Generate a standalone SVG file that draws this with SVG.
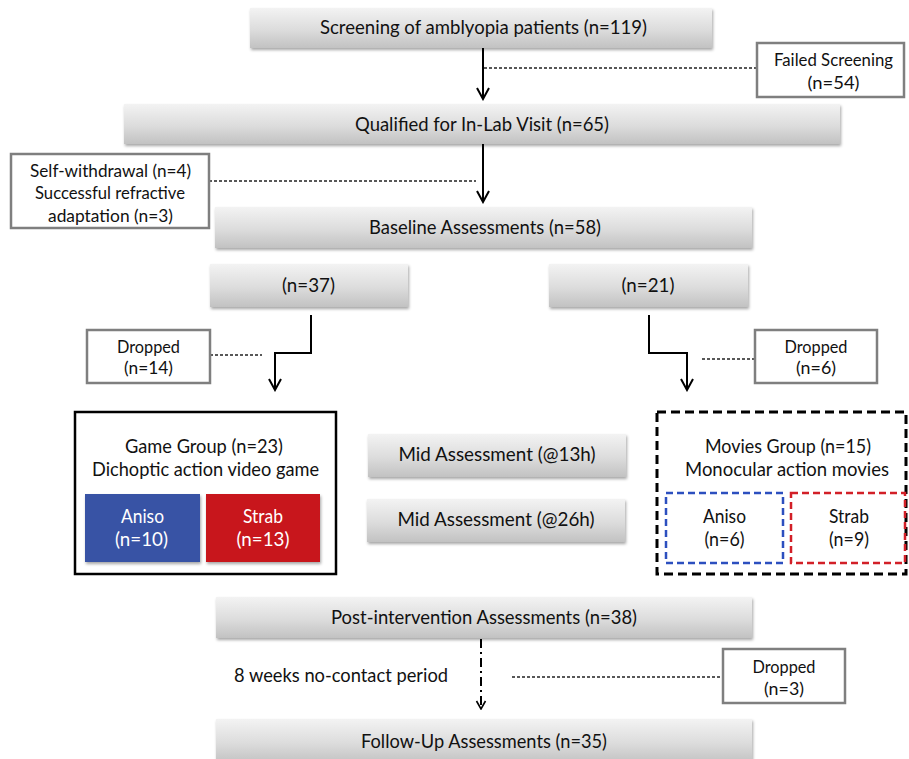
<svg xmlns="http://www.w3.org/2000/svg" width="909" height="759" viewBox="0 0 909 759">
<defs>
  <linearGradient id="gray" x1="0" y1="0" x2="0" y2="1">
    <stop offset="0" stop-color="#f3f3f3"/>
    <stop offset="0.55" stop-color="#dcdcdc"/>
    <stop offset="1" stop-color="#c2c2c2"/>
  </linearGradient>
  <filter id="sh" x="-5%" y="-20%" width="110%" height="150%">
    <feDropShadow dx="1" dy="2" stdDeviation="1.5" flood-color="#000" flood-opacity="0.35"/>
  </filter>
  <marker id="arr" markerWidth="14" markerHeight="14" refX="12" refY="7" orient="auto" markerUnits="userSpaceOnUse" viewBox="0 0 14 14">
    <path d="M1,1 L12,7 L1,13" fill="none" stroke="#000" stroke-width="2"/>
  </marker>
  <marker id="arrs" markerWidth="10" markerHeight="12" refX="9" refY="6" orient="auto" markerUnits="userSpaceOnUse" viewBox="0 0 10 12">
    <path d="M1,1.5 L9,6 L1,10.5" fill="none" stroke="#000" stroke-width="1.6"/>
  </marker>
</defs>
<style>
  text { font-family: Lato, "Open Sans", "Liberation Sans", sans-serif; fill: #111111; text-anchor: middle; font-size: 19px; }
  .sm { font-size: 17px; }
  .w { fill: #ffffff; }
  .gbox { fill: url(#gray); filter: url(#sh); }
  .drop { fill: #ffffff; stroke: #7f7f7f; stroke-width: 2.5; }
  .flow { fill: none; stroke: #000; stroke-width: 2; }
  .dash { fill: none; stroke: #222; stroke-width: 1.4; stroke-dasharray: 3 2; }
</style>
<rect width="909" height="759" fill="#ffffff"/>

<g id="connectors">
  <line class="flow" x1="483" y1="48" x2="483" y2="99" marker-end="url(#arr)"/>
  <line class="dash" x1="484" y1="68" x2="757" y2="68"/>
  <line class="flow" x1="483" y1="144" x2="483" y2="202" marker-end="url(#arr)"/>
  <line class="dash" x1="209" y1="181" x2="476" y2="181"/>
  <polyline class="flow" points="311,315 311,353 275,353 275,390" marker-end="url(#arr)"/>
  <line class="dash" x1="210" y1="355" x2="262" y2="355"/>
  <polyline class="flow" points="649,315 649,353 687,353 687,390" marker-end="url(#arr)"/>
  <line class="dash" x1="702" y1="359" x2="755" y2="359"/>
  <line x1="481" y1="639" x2="481" y2="709" fill="none" stroke="#000" stroke-width="2" stroke-dasharray="9 4 2 4" marker-end="url(#arrs)"/>
  <line class="dash" x1="512" y1="677" x2="723" y2="677"/>
</g>

<g id="screening">
  <rect class="gbox" x="250" y="8" width="462" height="40"/>
  <text x="483.5" y="34" textLength="327" lengthAdjust="spacingAndGlyphs">Screening of amblyopia patients (n=119)</text>
</g>
<g id="failed">
  <rect class="drop" x="757" y="43" width="147" height="54"/>
  <text class="sm" x="833.5" y="66" textLength="119" lengthAdjust="spacingAndGlyphs">Failed Screening</text>
  <text class="sm" x="833.5" y="89" textLength="52" lengthAdjust="spacingAndGlyphs">(n=54)</text>
</g>
<g id="qualified">
  <rect class="gbox" x="124" y="104" width="716" height="40"/>
  <text x="482" y="131" textLength="254" lengthAdjust="spacingAndGlyphs">Qualified for In-Lab Visit (n=65)</text>
</g>
<g id="withdrawal">
  <rect class="drop" x="11" y="154" width="198" height="74"/>
  <text class="sm" x="110.5" y="177" textLength="161" lengthAdjust="spacingAndGlyphs">Self-withdrawal (n=4)</text>
  <text class="sm" x="110" y="199" textLength="150" lengthAdjust="spacingAndGlyphs">Successful refractive</text>
  <text class="sm" x="110.5" y="222" textLength="125" lengthAdjust="spacingAndGlyphs">adaptation (n=3)</text>
</g>
<g id="baseline">
  <rect class="gbox" x="215" y="207" width="537" height="41"/>
  <text x="485" y="234" textLength="232" lengthAdjust="spacingAndGlyphs">Baseline Assessments (n=58)</text>
</g>
<g id="n37">
  <rect class="gbox" x="210" y="264" width="198" height="43"/>
  <text x="308.5" y="292" textLength="53" lengthAdjust="spacingAndGlyphs">(n=37)</text>
</g>
<g id="n21">
  <rect class="gbox" x="549" y="264" width="199" height="43"/>
  <text x="648" y="292" textLength="53" lengthAdjust="spacingAndGlyphs">(n=21)</text>
</g>
<g id="dropped14">
  <rect class="drop" x="87" y="330" width="123" height="53"/>
  <text class="sm" x="148.5" y="353" textLength="63" lengthAdjust="spacingAndGlyphs">Dropped</text>
  <text class="sm" x="148.5" y="374" textLength="49" lengthAdjust="spacingAndGlyphs">(n=14)</text>
</g>
<g id="dropped6">
  <rect class="drop" x="755" y="330" width="122" height="53"/>
  <text class="sm" x="816" y="353" textLength="63" lengthAdjust="spacingAndGlyphs">Dropped</text>
  <text class="sm" x="816" y="374" textLength="40" lengthAdjust="spacingAndGlyphs">(n=6)</text>
</g>
<g id="game">
  <rect x="75" y="412" width="261" height="162" fill="#ffffff" stroke="#000" stroke-width="2.5"/>
  <text x="204" y="453" textLength="158" lengthAdjust="spacingAndGlyphs">Game Group (n=23)</text>
  <text x="205.5" y="476" textLength="227" lengthAdjust="spacingAndGlyphs">Dichoptic action video game</text>
  <g id="game-aniso">
    <rect x="85" y="494" width="115" height="68" fill="#3953a5" filter="url(#sh)"/>
    <text class="w" x="142.5" y="523" textLength="43" lengthAdjust="spacingAndGlyphs">Aniso</text>
    <text class="w" x="141.5" y="546" textLength="53" lengthAdjust="spacingAndGlyphs">(n=10)</text>
  </g>
  <g id="game-strab">
    <rect x="206" y="494" width="114" height="68" fill="#c8171e" filter="url(#sh)"/>
    <text class="w" x="263" y="523" textLength="40" lengthAdjust="spacingAndGlyphs">Strab</text>
    <text class="w" x="263" y="546" textLength="53" lengthAdjust="spacingAndGlyphs">(n=13)</text>
  </g>
</g>
<g id="mid13">
  <rect class="gbox" x="368" y="434" width="258" height="43"/>
  <text x="497" y="461" textLength="197" lengthAdjust="spacingAndGlyphs">Mid Assessment (@13h)</text>
</g>
<g id="mid26">
  <rect class="gbox" x="367" y="499" width="258" height="43"/>
  <text x="496" y="526" textLength="197" lengthAdjust="spacingAndGlyphs">Mid Assessment (@26h)</text>
</g>
<g id="movies">
  <rect x="657" y="412" width="249" height="162" fill="#ffffff" stroke="#000" stroke-width="3" stroke-dasharray="9 5"/>
  <text x="788" y="453" textLength="166" lengthAdjust="spacingAndGlyphs">Movies Group (n=15)</text>
  <text x="787" y="476" textLength="204" lengthAdjust="spacingAndGlyphs">Monocular action movies</text>
  <g id="movies-aniso">
    <rect x="666" y="493" width="117" height="70" fill="none" stroke="#2c4fbf" stroke-width="2.5" stroke-dasharray="7 4"/>
    <text x="724.5" y="523" textLength="43" lengthAdjust="spacingAndGlyphs">Aniso</text>
    <text x="724.5" y="546" textLength="40" lengthAdjust="spacingAndGlyphs">(n=6)</text>
  </g>
  <g id="movies-strab">
    <rect x="791" y="493" width="114" height="70" fill="none" stroke="#d21f27" stroke-width="2.5" stroke-dasharray="7 4"/>
    <text x="849" y="523" textLength="40" lengthAdjust="spacingAndGlyphs">Strab</text>
    <text x="849" y="546" textLength="40" lengthAdjust="spacingAndGlyphs">(n=9)</text>
  </g>
</g>
<g id="post">
  <rect class="gbox" x="216" y="597" width="536" height="41"/>
  <text x="484" y="624" textLength="306" lengthAdjust="spacingAndGlyphs">Post-intervention Assessments (n=38)</text>
</g>
<g id="nocontact">
  <text x="341" y="682" textLength="214" lengthAdjust="spacingAndGlyphs">8 weeks no-contact period</text>
</g>
<g id="dropped3">
  <rect class="drop" x="723" y="649" width="122" height="54"/>
  <text class="sm" x="784" y="673" textLength="63" lengthAdjust="spacingAndGlyphs">Dropped</text>
  <text class="sm" x="784" y="695" textLength="40" lengthAdjust="spacingAndGlyphs">(n=3)</text>
</g>
<g id="followup">
  <rect class="gbox" x="216" y="719" width="536" height="44"/>
  <text x="484" y="748" textLength="246" lengthAdjust="spacingAndGlyphs">Follow-Up Assessments (n=35)</text>
</g>
</svg>
